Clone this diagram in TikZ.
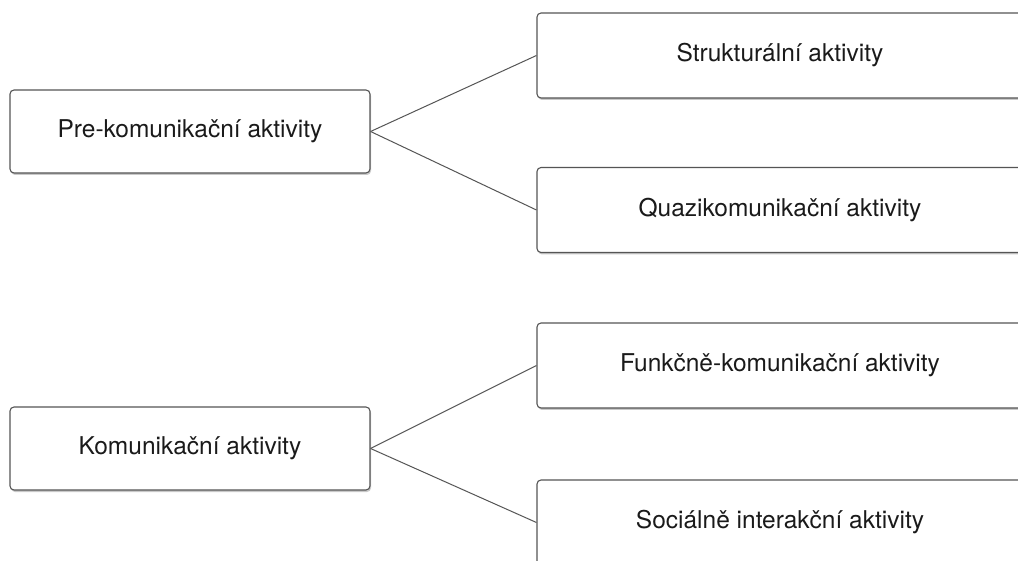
\documentclass[tikz,border=0pt]{standalone}
\usepackage{fontspec}
\setmainfont{TeX Gyre Heros}
\usetikzlibrary{shadows}
\definecolor{boxline}{HTML}{555555}
\definecolor{boxtext}{HTML}{1a1a1a}
\begin{document}
\begin{tikzpicture}[x=1pt,y=-1pt,
  box/.style={draw=boxline, line width=1.1pt, rounded corners=4pt, fill=white,
    text=boxtext, font=\fontsize{24.5}{28}\selectfont, inner sep=0pt,
    drop shadow={shadow xshift=1pt, shadow yshift=-2pt, opacity=0.35, fill=black!60}},
  leftbox/.style={box, minimum width=360pt, minimum height=83pt},
  rightbox/.style={box, minimum width=486pt, minimum height=85pt},
  link/.style={draw=boxline, line width=1pt}]
\clip (0,0) rectangle (1018,561);
\fill[white] (0,0) rectangle (1018,561);

% first group
\node[leftbox]  (pre)   at (190,131.5) {Pre-komunikační aktivity};
\node[rightbox] (strk)  at (780,55.5)  {Strukturální aktivity};
\node[rightbox] (quazi) at (780,210)   {Quazikomunikační aktivity};
\draw[link] (pre.east) -- (strk.west);
\draw[link] (pre.east) -- (quazi.west);

% second group
\node[leftbox]  (kom)   at (190,448.5) {Komunikační aktivity};
\node[rightbox] (funk)  at (780,365.5) {Funkčně-komunikační aktivity};
\node[rightbox] (soc)   at (780,522.5) {Sociálně interakční aktivity};
\draw[link] (kom.east) -- (funk.west);
\draw[link] (kom.east) -- (soc.west);
\end{tikzpicture}
\end{document}
